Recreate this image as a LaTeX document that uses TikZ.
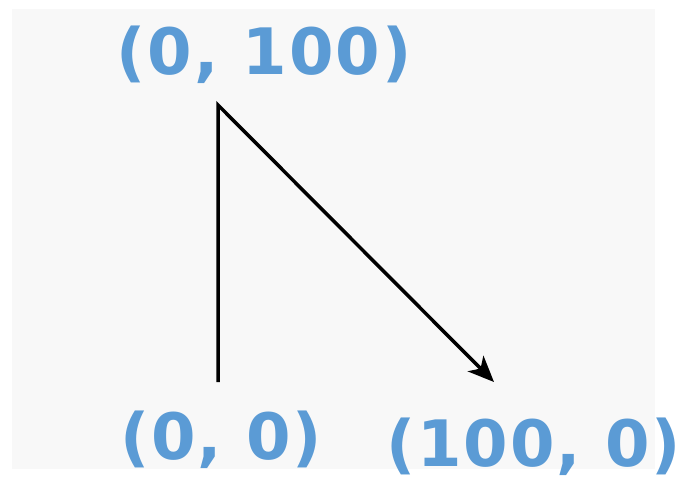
\documentclass[tikz,border=0pt]{standalone}
\usepackage{fontspec}
\setmainfont{DejaVu Sans}
\newfontfamily\lblfont[LetterSpace=3]{DejaVu Sans}
\usetikzlibrary{arrows.meta}
\definecolor{lblblue}{HTML}{5B9BD5}
\definecolor{bggray}{HTML}{F8F8F8}
\tikzset{
  lbl/.style={text=lblblue, font=\lblfont\fontsize{64}{70}\selectfont\bfseries, inner sep=0pt, anchor=base},
  pathline/.style={line width=3.5pt, black, line join=miter}
}
\begin{document}
\begin{tikzpicture}[x=1pt,y=-1pt]
\useasboundingbox (0,0) rectangle (684,481);
\fill[white] (0,0) rectangle (684,481);
\fill[bggray] (12,9) rectangle (655,469);
\coordinate (o) at (218,382);
\coordinate (p) at (218,105);
\coordinate (q) at (494,382);
\draw[pathline, -{Stealth[length=26pt,width=22pt,inset=7pt]}] (o) -- (p) -- (q);
\node[lbl] (lp) at (264,75) {(0, 100)};
\node[lbl] (lo) at (221,459) {(0, 0)};
\node[lbl, anchor=base east] (lq) at (681,466) {(100, 0)};
\end{tikzpicture}
\end{document}
